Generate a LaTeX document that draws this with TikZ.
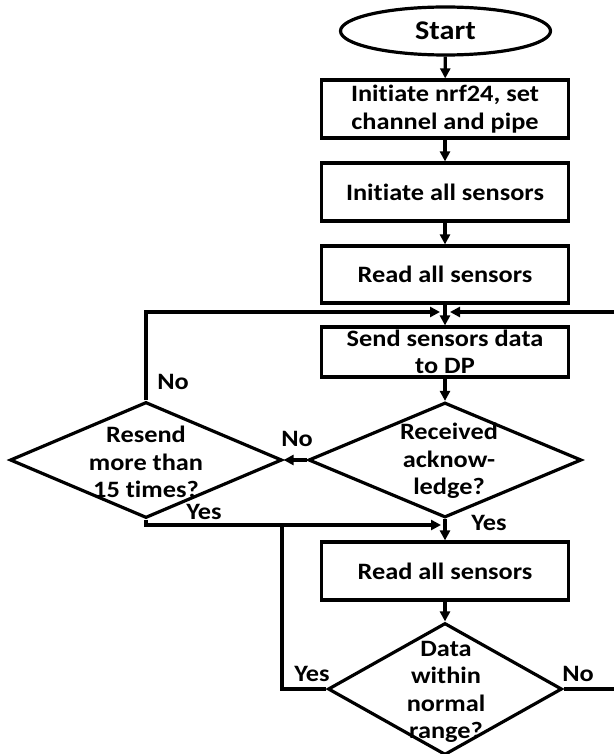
\documentclass[tikz,border=0pt]{standalone}
\usepackage{fontspec}
\setmainfont{Carlito}[FakeStretch=1.12, Ligatures=NoCommon]
\usetikzlibrary{shapes.geometric,arrows.meta}
\begin{document}
\begin{tikzpicture}[x=1pt,y=-1pt,
  every node/.style={font=\fontsize{23.5}{27.5}\selectfont\bfseries},
  proc/.style={draw, line width=3.2pt, minimum width=247pt, align=center, inner sep=0pt},
  dec/.style={draw, diamond, line width=3.2pt, inner sep=0pt},
  txt/.style={align=center, inner sep=0pt},
  flow/.style={line width=3.2pt},
  arr/.style={flow, -{Triangle[length=10pt,width=10pt]}}]
\useasboundingbox (0,0) rectangle (614,754);

% process boxes
\node[ellipse, draw, line width=3.2pt, minimum width=210pt, minimum height=48pt, inner sep=0pt,
      font=\fontsize{27}{28}\selectfont\bfseries] (start) at (445.5,31) {Start};
\node[proc, minimum height=58pt] (init) at (445,109) {Initiate nrf24, set\\channel and pipe};
\node[proc, minimum height=58pt] (sens) at (445,192) {Initiate all sensors};
\node[proc, minimum height=57pt] (read1) at (445,274.5) {Read all sensors};
\coordinate (J) at (445,312);
\node[proc, minimum height=50pt] (send) at (445,352) {Send sensors data\\to DP};
\node[proc, minimum height=58pt] (read2) at (445,571) {Read all sensors};

% decisions
\node[dec, minimum width=273pt, minimum height=115pt] (ack) at (445,460) {};
\node[txt] (ackT) at (449,461) {Received\\acknow-\\ledge?};
\node[dec, minimum width=272pt, minimum height=116pt] (resend) at (146,460) {};
\node[txt] (resendT) at (146,462) {Resend\\more than\\15 times?};
\node[dec, minimum width=234pt, minimum height=132pt] (data) at (445,689) {};
\node[txt] (dataT) at (446,692) {Data\\within\\normal\\range?};

% free ends and joints
\coordinate (Jl) at (440,312);
\coordinate (Jr) at (450,312);
\coordinate (Rtop) at (614,312);
\coordinate (Rbot) at (614,689);
\coordinate (Yl) at (441,525);
\coordinate (M) at (282,525);

% connectors
\draw[arr] (start) -- (init);
\draw[arr] (init) -- (sens);
\draw[arr] (sens) -- (read1);
\draw[flow] (read1.south) -- (J);
\draw[arr] (J) -- (send.north);
\draw[arr] (resend.north) |- (Jl);
\draw[arr] (Rtop) -- (Jr);
\draw[arr] (send.south) -- (ack.north);
\draw[arr] (ack.west) -- (resend.east);
\draw[arr] (resend.south) |- (Yl);
\draw[arr] (ack.south) -- (read2.north);
\draw[flow] (data.west) -| (M);
\draw[arr] (read2.south) -- (data.north);
\draw[flow] (data.east) -- (Rbot);

% branch labels
\node (noA) at (173,382) {No};
\node (noB) at (297,439) {No};
\node (yesA) at (204,512) {Yes};
\node (yesB) at (489,523) {Yes};
\node (yesC) at (312,674) {Yes};
\node (noC) at (578,674) {No};
\end{tikzpicture}
\end{document}
